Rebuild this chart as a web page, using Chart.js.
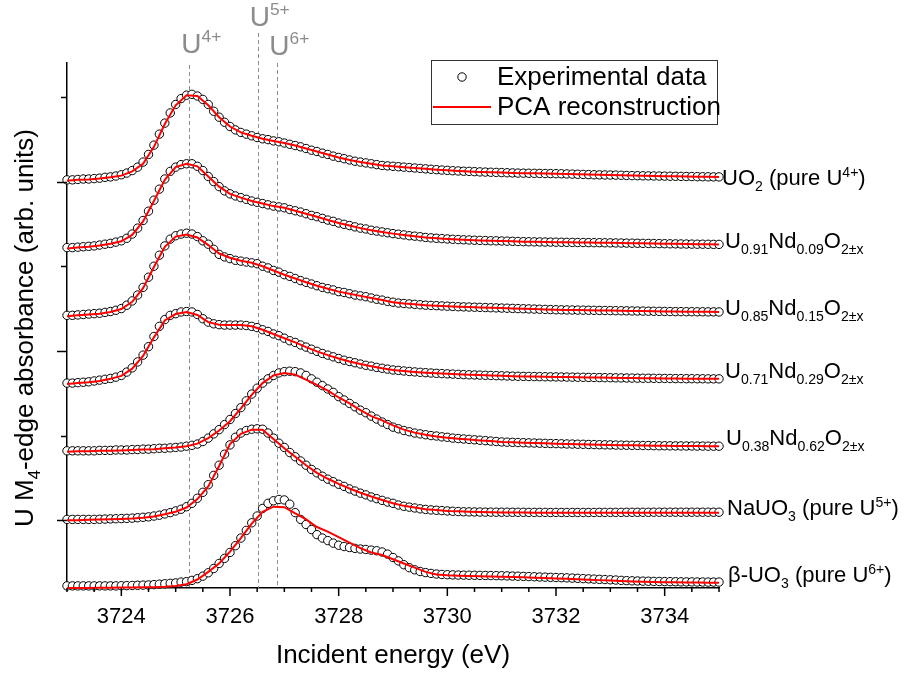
<!DOCTYPE html>
<html>
<head>
<meta charset="utf-8">
<title>U M4-edge HERFD spectra</title>
<script src="https://cdn.jsdelivr.net/npm/chart.js@4.4.1/dist/chart.umd.min.js"></script>
<style>
    html, body { margin: 0; padding: 0; background: #fff; }
    #chart { display: block; }
</style>
</head>
<body>
<canvas id="chart" width="906" height="674"></canvas>
<script>
// incident energies of the measured points (eV)
const energyExp = [
    3723.0, 3723.1, 3723.2, 3723.3, 3723.4, 3723.5, 3723.6, 3723.7, 3723.8, 3723.9,
    3724.0, 3724.1, 3724.2, 3724.3, 3724.4, 3724.5, 3724.6, 3724.7, 3724.8, 3724.9,
    3725.0, 3725.1, 3725.2, 3725.3, 3725.4, 3725.5, 3725.6, 3725.7, 3725.8, 3725.9,
    3726.0, 3726.1, 3726.2, 3726.3, 3726.4, 3726.5, 3726.6, 3726.7, 3726.8, 3726.9,
    3727.0, 3727.1, 3727.2, 3727.3, 3727.4, 3727.5, 3727.6, 3727.7, 3727.8, 3727.9,
    3728.0, 3728.1, 3728.2, 3728.3, 3728.4, 3728.5, 3728.6, 3728.7, 3728.8, 3728.9,
    3729.0, 3729.1, 3729.2, 3729.3, 3729.4, 3729.5, 3729.6, 3729.7, 3729.8, 3729.9,
    3730.0, 3730.1, 3730.2, 3730.3, 3730.4, 3730.5, 3730.6, 3730.7, 3730.8, 3730.9,
    3731.0, 3731.1, 3731.2, 3731.3, 3731.4, 3731.5, 3731.6, 3731.7, 3731.8, 3731.9,
    3732.0, 3732.1, 3732.2, 3732.3, 3732.4, 3732.5, 3732.6, 3732.7, 3732.8, 3732.9,
    3733.0, 3733.1, 3733.2, 3733.3, 3733.4, 3733.5, 3733.6, 3733.7, 3733.8, 3733.9,
    3734.0, 3734.1, 3734.2, 3734.3, 3734.4, 3734.5, 3734.6, 3734.7, 3734.8, 3734.9,
    3735.0
];

// incident energies of the PCA reconstruction (eV)
const energyFit = [
    3723.0, 3723.2, 3723.4, 3723.6, 3723.8, 3724.0, 3724.2, 3724.4, 3724.6, 3724.8,
    3725.0, 3725.2, 3725.4, 3725.6, 3725.8, 3726.0, 3726.2, 3726.4, 3726.6, 3726.8,
    3727.0, 3727.2, 3727.4, 3727.6, 3727.8, 3728.0, 3728.2, 3728.4, 3728.6, 3728.8,
    3729.0, 3729.2, 3729.4, 3729.6, 3729.8, 3730.0, 3730.2, 3730.4, 3730.6, 3730.8,
    3731.0, 3731.2, 3731.4, 3731.6, 3731.8, 3732.0, 3732.2, 3732.4, 3732.6, 3732.8,
    3733.0, 3733.2, 3733.4, 3733.6, 3733.8, 3734.0, 3734.2, 3734.4, 3734.6, 3734.8,
    3735.0
];

// vertical offsets used to stack the spectra (arb. units)
const seriesOffsets = [5.0, 4.2, 3.4, 2.6, 1.8, 1.0, 0.2];

// measured absorbance, one row per 1 eV
const expUO2 = [
    0.02, 0.02, 0.025, 0.03, 0.03, 0.035, 0.04, 0.05, 0.055, 0.065,
    0.08, 0.10, 0.13, 0.17, 0.23, 0.32, 0.43, 0.56, 0.69, 0.81,
    0.91, 0.98, 1.02, 1.03, 1.01, 0.97, 0.91, 0.83, 0.76, 0.70,
    0.65, 0.61, 0.58, 0.56, 0.54, 0.52, 0.505, 0.495, 0.48, 0.47,
    0.455, 0.44, 0.425, 0.41, 0.39, 0.37, 0.355, 0.335, 0.32, 0.30,
    0.285, 0.27, 0.255, 0.24, 0.23, 0.22, 0.21, 0.20, 0.19, 0.185,
    0.18, 0.175, 0.17, 0.165, 0.16, 0.155, 0.15, 0.145, 0.14, 0.136,
    0.132, 0.128, 0.125, 0.122, 0.12, 0.117, 0.114, 0.112, 0.11, 0.108,
    0.106, 0.104, 0.102, 0.10, 0.099, 0.098, 0.097, 0.096, 0.095, 0.094,
    0.093, 0.092, 0.09, 0.088, 0.086, 0.084, 0.082, 0.08, 0.079, 0.078,
    0.077, 0.076, 0.074, 0.072, 0.07, 0.069, 0.068, 0.067, 0.066, 0.065,
    0.064, 0.063, 0.062, 0.061, 0.06, 0.059, 0.058, 0.057, 0.056, 0.055,
    0.055
];
const expU091 = [
    0.02, 0.02, 0.025, 0.03, 0.035, 0.04, 0.05, 0.06, 0.07, 0.085,
    0.10, 0.13, 0.18, 0.25, 0.34, 0.45, 0.58, 0.71, 0.83, 0.92,
    0.97, 1.0, 1.01, 1.01, 0.98, 0.93, 0.86, 0.80, 0.74, 0.69,
    0.655, 0.63, 0.61, 0.59, 0.57, 0.555, 0.54, 0.525, 0.51, 0.50,
    0.49, 0.47, 0.455, 0.44, 0.42, 0.40, 0.385, 0.365, 0.345, 0.33,
    0.31, 0.295, 0.28, 0.265, 0.25, 0.24, 0.225, 0.215, 0.205, 0.195,
    0.185, 0.178, 0.17, 0.16, 0.155, 0.148, 0.14, 0.135, 0.13, 0.126,
    0.122, 0.118, 0.115, 0.112, 0.11, 0.107, 0.105, 0.103, 0.101, 0.10,
    0.098, 0.096, 0.094, 0.092, 0.09, 0.089, 0.088, 0.087, 0.086, 0.085,
    0.084, 0.083, 0.082, 0.081, 0.08, 0.08, 0.079, 0.078, 0.078, 0.077,
    0.076, 0.075, 0.074, 0.073, 0.072, 0.071, 0.07, 0.069, 0.068, 0.067,
    0.066, 0.065, 0.064, 0.063, 0.062, 0.061, 0.06, 0.06, 0.059, 0.058,
    0.058
];
const expU085 = [
    0.02, 0.02, 0.025, 0.03, 0.035, 0.04, 0.045, 0.055, 0.065, 0.08,
    0.10, 0.14, 0.19, 0.26, 0.35, 0.47, 0.60, 0.73, 0.84, 0.92,
    0.96, 0.98, 0.99, 0.98, 0.95, 0.90, 0.86, 0.80, 0.74, 0.71,
    0.69, 0.67, 0.66, 0.65, 0.64, 0.63, 0.60, 0.58, 0.55, 0.53,
    0.50, 0.48, 0.455, 0.43, 0.41, 0.39, 0.37, 0.35, 0.335, 0.32,
    0.30, 0.29, 0.275, 0.26, 0.25, 0.24, 0.225, 0.21, 0.20, 0.185,
    0.175, 0.165, 0.16, 0.155, 0.15, 0.145, 0.14, 0.137, 0.134, 0.131,
    0.128, 0.125, 0.122, 0.12, 0.118, 0.116, 0.114, 0.112, 0.11, 0.108,
    0.106, 0.104, 0.102, 0.10, 0.098, 0.096, 0.094, 0.092, 0.09, 0.088,
    0.086, 0.085, 0.084, 0.083, 0.082, 0.081, 0.08, 0.079, 0.078, 0.077,
    0.076, 0.075, 0.074, 0.073, 0.072, 0.071, 0.07, 0.069, 0.068, 0.067,
    0.066, 0.065, 0.064, 0.064, 0.063, 0.063, 0.062, 0.062, 0.061, 0.061,
    0.06
];
const expU071 = [
    0.02, 0.02, 0.025, 0.03, 0.035, 0.045, 0.055, 0.065, 0.075, 0.09,
    0.11, 0.15, 0.20, 0.27, 0.35, 0.45, 0.57, 0.69, 0.77, 0.82,
    0.84, 0.86, 0.865, 0.86, 0.83, 0.78, 0.74, 0.72, 0.71, 0.705,
    0.705, 0.705, 0.705, 0.70, 0.69, 0.675, 0.65, 0.63, 0.60, 0.58,
    0.55, 0.52, 0.50, 0.47, 0.445, 0.42, 0.395, 0.37, 0.35, 0.33,
    0.31, 0.29, 0.275, 0.26, 0.245, 0.23, 0.22, 0.205, 0.195, 0.185,
    0.175, 0.17, 0.163, 0.157, 0.152, 0.147, 0.143, 0.139, 0.135, 0.132,
    0.129, 0.126, 0.123, 0.12, 0.118, 0.116, 0.114, 0.112, 0.11, 0.108,
    0.106, 0.104, 0.102, 0.10, 0.099, 0.098, 0.097, 0.096, 0.095, 0.094,
    0.093, 0.092, 0.091, 0.09, 0.089, 0.088, 0.087, 0.086, 0.085, 0.084,
    0.083, 0.082, 0.081, 0.08, 0.079, 0.078, 0.077, 0.077, 0.076, 0.075,
    0.075, 0.074, 0.073, 0.073, 0.072, 0.072, 0.071, 0.071, 0.07, 0.07,
    0.07
];
const expU038 = [
    0.02, 0.02, 0.02, 0.02, 0.02, 0.02, 0.025, 0.025, 0.025, 0.03,
    0.03, 0.03, 0.035, 0.035, 0.04, 0.04, 0.045, 0.05, 0.05, 0.055,
    0.06, 0.065, 0.075, 0.085, 0.10, 0.13, 0.17, 0.22, 0.27, 0.33,
    0.39, 0.46, 0.53, 0.61, 0.69, 0.76, 0.82, 0.87, 0.91, 0.94,
    0.955, 0.96, 0.955, 0.94, 0.91, 0.87, 0.83, 0.79, 0.75, 0.71,
    0.66, 0.62, 0.58, 0.54, 0.50, 0.47, 0.43, 0.395, 0.36, 0.33,
    0.30, 0.28, 0.26, 0.245, 0.23, 0.22, 0.21, 0.20, 0.195, 0.185,
    0.18, 0.17, 0.165, 0.16, 0.155, 0.15, 0.145, 0.14, 0.135, 0.13,
    0.125, 0.122, 0.12, 0.118, 0.116, 0.114, 0.112, 0.11, 0.108, 0.106,
    0.105, 0.103, 0.101, 0.10, 0.098, 0.097, 0.095, 0.094, 0.092, 0.091,
    0.09, 0.088, 0.087, 0.086, 0.085, 0.084, 0.083, 0.082, 0.081, 0.08,
    0.08, 0.079, 0.078, 0.078, 0.077, 0.077, 0.076, 0.076, 0.075, 0.075,
    0.075
];
const expNaUO3 = [
    0.01, 0.01, 0.01, 0.01, 0.01, 0.01, 0.012, 0.014, 0.016, 0.018,
    0.02, 0.022, 0.025, 0.03, 0.035, 0.04, 0.05, 0.06, 0.075, 0.09,
    0.11, 0.13, 0.16, 0.20, 0.26, 0.33, 0.42, 0.53, 0.65, 0.78,
    0.89, 0.98, 1.03, 1.06, 1.075, 1.08, 1.075, 1.03, 0.97, 0.91,
    0.86, 0.80, 0.75, 0.70, 0.65, 0.60, 0.56, 0.52, 0.485, 0.455,
    0.425, 0.40, 0.37, 0.345, 0.32, 0.30, 0.275, 0.255, 0.235, 0.215,
    0.20, 0.18, 0.165, 0.155, 0.145, 0.135, 0.128, 0.122, 0.118, 0.114,
    0.11, 0.106, 0.103, 0.10, 0.099, 0.098, 0.097, 0.096, 0.096, 0.095,
    0.095, 0.095, 0.094, 0.094, 0.094, 0.093, 0.093, 0.093, 0.093, 0.092,
    0.092, 0.092, 0.092, 0.092, 0.092, 0.092, 0.092, 0.092, 0.093, 0.093,
    0.093, 0.093, 0.093, 0.094, 0.094, 0.094, 0.094, 0.094, 0.095, 0.095,
    0.095, 0.095, 0.095, 0.095, 0.095, 0.095, 0.095, 0.095, 0.095, 0.095,
    0.095
];
const expBUO3 = [
    0.025, 0.025, 0.025, 0.025, 0.025, 0.025, 0.025, 0.025, 0.025, 0.025,
    0.027, 0.028, 0.03, 0.032, 0.034, 0.036, 0.04, 0.045, 0.05, 0.055,
    0.06, 0.07, 0.075, 0.09, 0.11, 0.14, 0.18, 0.23, 0.29, 0.35,
    0.42, 0.50, 0.59, 0.68, 0.77, 0.85, 0.94, 1.00, 1.03, 1.045,
    1.04, 0.99, 0.89, 0.81, 0.75, 0.69, 0.63, 0.59, 0.56, 0.53,
    0.505, 0.49, 0.478, 0.468, 0.46, 0.455, 0.447, 0.44, 0.425, 0.40,
    0.36, 0.32, 0.275, 0.24, 0.215, 0.195, 0.182, 0.172, 0.165, 0.16,
    0.157, 0.155, 0.153, 0.152, 0.151, 0.15, 0.149, 0.148, 0.147, 0.146,
    0.145, 0.143, 0.141, 0.139, 0.137, 0.135, 0.133, 0.13, 0.128, 0.126,
    0.124, 0.122, 0.12, 0.117, 0.114, 0.111, 0.108, 0.105, 0.102, 0.10,
    0.097, 0.094, 0.09, 0.087, 0.085, 0.083, 0.081, 0.08, 0.078, 0.077,
    0.076, 0.075, 0.074, 0.073, 0.072, 0.072, 0.071, 0.071, 0.07, 0.07,
    0.07
];

// PCA reconstruction, one row per 1 eV
const fitUO2 = [
    0.01, 0.02, 0.025, 0.035, 0.05,
    0.07, 0.12, 0.21, 0.41, 0.68,
    0.90, 1.02, 1.01, 0.90, 0.76,
    0.65, 0.58, 0.54, 0.505, 0.48,
    0.455, 0.425, 0.39, 0.355, 0.32,
    0.285, 0.255, 0.23, 0.21, 0.19,
    0.18, 0.17, 0.16, 0.15, 0.14,
    0.132, 0.125, 0.12, 0.114, 0.11,
    0.106, 0.102, 0.099, 0.097, 0.095,
    0.093, 0.09, 0.086, 0.082, 0.079,
    0.077, 0.074, 0.07, 0.068, 0.066,
    0.064, 0.062, 0.06, 0.058, 0.056,
    0.055
];
const fitU091 = [
    0.01, 0.02, 0.03, 0.045, 0.065,
    0.095, 0.17, 0.33, 0.57, 0.82,
    0.97, 1.01, 0.98, 0.86, 0.74,
    0.655, 0.61, 0.57, 0.54, 0.51,
    0.49, 0.455, 0.42, 0.385, 0.345,
    0.31, 0.28, 0.25, 0.225, 0.205,
    0.185, 0.17, 0.155, 0.14, 0.13,
    0.122, 0.115, 0.11, 0.105, 0.101,
    0.098, 0.094, 0.09, 0.088, 0.086,
    0.084, 0.082, 0.08, 0.079, 0.078,
    0.076, 0.074, 0.072, 0.07, 0.068,
    0.066, 0.064, 0.062, 0.06, 0.059,
    0.058
];
const fitU085 = [
    0.01, 0.02, 0.03, 0.04, 0.06,
    0.095, 0.18, 0.34, 0.59, 0.83,
    0.95, 0.975, 0.94, 0.85, 0.75,
    0.70, 0.665, 0.64, 0.60, 0.55,
    0.50, 0.455, 0.41, 0.37, 0.335,
    0.30, 0.275, 0.25, 0.225, 0.20,
    0.175, 0.16, 0.15, 0.14, 0.134,
    0.128, 0.122, 0.118, 0.114, 0.11,
    0.106, 0.102, 0.098, 0.094, 0.09,
    0.086, 0.084, 0.082, 0.08, 0.078,
    0.076, 0.074, 0.072, 0.07, 0.068,
    0.066, 0.064, 0.063, 0.062, 0.061,
    0.06
];
const fitU071 = [
    0.01, 0.02, 0.03, 0.045, 0.07,
    0.105, 0.19, 0.34, 0.56, 0.76,
    0.835, 0.86, 0.825, 0.74, 0.71,
    0.705, 0.705, 0.69, 0.65, 0.60,
    0.55, 0.50, 0.445, 0.395, 0.35,
    0.31, 0.275, 0.245, 0.22, 0.195,
    0.175, 0.163, 0.152, 0.143, 0.135,
    0.129, 0.123, 0.118, 0.114, 0.11,
    0.106, 0.102, 0.099, 0.097, 0.095,
    0.093, 0.091, 0.089, 0.087, 0.085,
    0.083, 0.081, 0.079, 0.077, 0.076,
    0.075, 0.073, 0.072, 0.071, 0.07,
    0.07
];
const fitU038 = [
    0.01, 0.015, 0.015, 0.02, 0.02,
    0.025, 0.03, 0.035, 0.04, 0.05,
    0.06, 0.075, 0.105, 0.17, 0.26,
    0.37, 0.52, 0.68, 0.82, 0.91,
    0.94, 0.92, 0.86, 0.80, 0.73,
    0.65, 0.58, 0.50, 0.43, 0.38,
    0.32, 0.27, 0.235, 0.21, 0.19,
    0.175, 0.163, 0.153, 0.143, 0.135,
    0.125, 0.12, 0.116, 0.112, 0.108,
    0.104, 0.101, 0.098, 0.095, 0.092,
    0.089, 0.087, 0.085, 0.083, 0.081,
    0.079, 0.078, 0.077, 0.076, 0.075,
    0.075
];
const fitNaUO3 = [
    0.0, 0.0, 0.005, 0.008, 0.012,
    0.015, 0.02, 0.03, 0.045, 0.07,
    0.10, 0.15, 0.25, 0.40, 0.64,
    0.90, 1.02, 1.07, 1.07, 0.96,
    0.85, 0.75, 0.65, 0.56, 0.49,
    0.43, 0.375, 0.325, 0.28, 0.24,
    0.20, 0.17, 0.15, 0.13, 0.12,
    0.11, 0.105, 0.10, 0.097, 0.095,
    0.093, 0.092, 0.091, 0.09, 0.09,
    0.09, 0.09, 0.09, 0.09, 0.09,
    0.09, 0.09, 0.09, 0.09, 0.09,
    0.09, 0.09, 0.09, 0.09, 0.09,
    0.09
];
const fitBUO3 = [
    0.0, 0.0, 0.0, 0.003, 0.003,
    0.005, 0.005, 0.008, 0.01, 0.015,
    0.025, 0.045, 0.10, 0.19, 0.29,
    0.43, 0.59, 0.76, 0.90, 0.96,
    0.955, 0.88, 0.81, 0.72, 0.665,
    0.60, 0.535, 0.47, 0.42, 0.39,
    0.34, 0.29, 0.24, 0.19, 0.16,
    0.15, 0.145, 0.142, 0.14, 0.137,
    0.134, 0.13, 0.126, 0.122, 0.118,
    0.113, 0.108, 0.103, 0.098, 0.093,
    0.088, 0.083, 0.078, 0.074, 0.071,
    0.069, 0.067, 0.065, 0.064, 0.063,
    0.062
];

const expSeries = [expUO2, expU091, expU085, expU071, expU038, expNaUO3, expBUO3];
const fitSeries = [fitUO2, fitU091, fitU085, fitU071, fitU038, fitNaUO3, fitBUO3];

// sample names written next to each spectrum ('sub' / 'sup' mark sub- and superscripts)
const sampleLabels = [
    [['UO'], ['2', 'sub'], [' (pure U'], ['4+', 'sup'], [')']],
    [['U'], ['0.91', 'sub'], ['Nd'], ['0.09', 'sub'], ['O'], ['2±x', 'sub']],
    [['U'], ['0.85', 'sub'], ['Nd'], ['0.15', 'sub'], ['O'], ['2±x', 'sub']],
    [['U'], ['0.71', 'sub'], ['Nd'], ['0.29', 'sub'], ['O'], ['2±x', 'sub']],
    [['U'], ['0.38', 'sub'], ['Nd'], ['0.62', 'sub'], ['O'], ['2±x', 'sub']],
    [['NaUO'], ['3', 'sub'], [' (pure U'], ['5+', 'sup'], [')']],
    [['β-UO'], ['3', 'sub'], [' (pure U'], ['6+', 'sup'], [')']]
];

// white-line energies of the reference oxidation states
const markerEnergies = [3725.25, 3726.51, 3726.87];
const markerLabels = ['4+', '5+', '6+'];

const xTitle = 'Incident energy (eV)';
const yTitle = [['U M'], ['4', 'sub'], ['-edge absorbance (arb. units)']];
const legendLabels = ['Experimental data', 'PCA reconstruction'];

const FONT = 'Arial, "Liberation Sans", sans-serif';

let spectraChart = {
    /**
     * The Chart.js instance
     * @type {Chart}
     */
    chart: null
};

/**
 * draws a text made of normal, subscript and superscript parts, returns its width
 */
spectraChart.drawRich = function (ctx, parts, x, y, size, scriptScale = 0.64, dryRun = false) {
    let cx = x;
    for (const part of parts) {
        const kind = part[1] || '';
        const s = kind ? size * scriptScale : size;
        const dy = kind === 'sub' ? size * 0.27 : (kind === 'sup' ? -size * 0.38 : 0);
        ctx.font = s + 'px ' + FONT;
        if (!dryRun) {
            ctx.fillText(part[0], cx, y + dy);
        }
        cx += ctx.measureText(part[0]).width;
    }
    return cx - x;
};

/**
 * dashed marker lines, tick marks, labels, titles and the framed legend
 */
const decorations = {
    id: 'decorations',
    beforeDatasetsDraw(chart) {
        const ctx = chart.ctx;
        const xs = chart.scales.x;
        const area = chart.chartArea;
        const tops = [area.top + 2, 33, area.top];
        ctx.save();
        ctx.strokeStyle = '#8c8c8c';
        ctx.lineWidth = 1;
        ctx.setLineDash([4, 3]);
        for (let i = 0; i < markerEnergies.length; i++) {
            const px = Math.round(xs.getPixelForValue(markerEnergies[i])) + 0.5;
            ctx.beginPath();
            ctx.moveTo(px, tops[i]);
            ctx.lineTo(px, area.bottom);
            ctx.stroke();
        }
        ctx.restore();
    },
    afterDraw(chart) {
        const ctx = chart.ctx;
        const xs = chart.scales.x;
        const ys = chart.scales.y;
        const area = chart.chartArea;
        ctx.save();

        // tick marks: long at labelled values, short in between
        ctx.strokeStyle = '#000';
        ctx.lineWidth = 1.5;
        for (const t of xs.ticks) {
            const px = xs.getPixelForValue(t.value);
            const len = Math.abs(t.value % 2) < 1e-6 ? 8 : 4;
            ctx.beginPath();
            ctx.moveTo(px, area.bottom);
            ctx.lineTo(px, area.bottom + len);
            ctx.stroke();
        }
        for (const t of ys.ticks) {
            if (Math.abs(t.value - Math.round(t.value)) > 1e-6) {
                continue;
            }
            const py = Math.round(ys.getPixelForValue(t.value)) + 0.5;
            const len = Math.round(t.value) % 2 === 1 ? 10 : 6;
            ctx.beginPath();
            ctx.moveTo(area.left - len, py);
            ctx.lineTo(area.left, py);
            ctx.stroke();
        }

        // oxidation state labels above the dashed lines
        ctx.fillStyle = '#8c8c8c';
        ctx.textBaseline = 'alphabetic';
        ctx.textAlign = 'left';
        const baselines = [53, 26, 55];
        for (let i = 0; i < markerEnergies.length; i++) {
            const px = xs.getPixelForValue(markerEnergies[i]);
            spectraChart.drawRich(ctx, [['U'], [markerLabels[i], 'sup']], px - 8, baselines[i], 28, 0.62);
        }

        // sample names at the right end of each spectrum
        ctx.fillStyle = '#000';
        const labelBaselines = [185, 248, 315, 378, 445, 515, 582];
        const labelX = [722, 725, 725, 725, 726, 727, 728];
        for (let i = 0; i < sampleLabels.length; i++) {
            spectraChart.drawRich(ctx, sampleLabels[i], labelX[i], labelBaselines[i], 22, 0.64);
        }

        // y axis title, rotated
        ctx.save();
        ctx.translate(24, 328);
        ctx.rotate(-Math.PI / 2);
        const w = spectraChart.drawRich(ctx, yTitle, 0, 0, 26, 0.64, true);
        spectraChart.drawRich(ctx, yTitle, -w / 2, 9, 26, 0.64);
        ctx.restore();

        // legend box
        ctx.fillStyle = '#fff';
        ctx.fillRect(431, 60, 286, 64);
        ctx.strokeStyle = '#333';
        ctx.lineWidth = 1;
        ctx.strokeRect(431.5, 60.5, 286, 64);
        ctx.beginPath();
        ctx.arc(462, 77, 4.2, 0, Math.PI * 2);
        ctx.fillStyle = '#fff';
        ctx.fill();
        ctx.strokeStyle = '#000';
        ctx.stroke();
        ctx.beginPath();
        ctx.moveTo(433, 107);
        ctx.lineTo(491, 107);
        ctx.strokeStyle = '#ff0000';
        ctx.lineWidth = 2;
        ctx.stroke();
        ctx.fillStyle = '#000';
        ctx.font = '26px ' + FONT;
        ctx.textBaseline = 'middle';
        ctx.fillText(legendLabels[0], 497, 78);
        ctx.fillText(legendLabels[1], 497, 108);

        ctx.restore();
    }
};

/**
 * builds the datasets and creates the chart
 */
spectraChart.init = function () {
    let datasets = [];
    for (let i = 0; i < expSeries.length; i++) {
        datasets.push({
            label: 'exp' + i,
            data: energyExp.map((e, k) => ({x: e, y: expSeries[i][k] + seriesOffsets[i]})),
            showLine: false,
            pointRadius: 4.2,
            pointBorderWidth: 1,
            pointBorderColor: '#000',
            pointBackgroundColor: '#fff',
            clip: false,
            order: 1
        });
    }
    for (let i = 0; i < fitSeries.length; i++) {
        datasets.push({
            label: 'fit' + i,
            data: energyFit.map((e, k) => ({x: e, y: fitSeries[i][k] + seriesOffsets[i]})),
            showLine: true,
            borderColor: '#ff0000',
            borderWidth: 2,
            pointRadius: 0,
            tension: 0,
            clip: false,
            order: 0
        });
    }

    Chart.defaults.font.family = FONT;
    Chart.defaults.color = '#000';

    spectraChart.chart = new Chart(document.getElementById('chart'), {
        type: 'scatter',
        data: {datasets: datasets},
        options: {
            responsive: false,
            animation: false,
            devicePixelRatio: 1,
            events: [],
            layout: {padding: {left: 67, right: 187, top: 63, bottom: 0}},
            plugins: {
                legend: {display: false},
                tooltip: {enabled: false}
            },
            scales: {
                x: {
                    type: 'linear',
                    min: 3723,
                    max: 3735,
                    grid: {display: false, drawTicks: false},
                    border: {display: true, color: '#000', width: 1.5},
                    ticks: {
                        stepSize: 0.5,
                        autoSkip: false,
                        maxRotation: 0,
                        padding: 16,
                        color: '#000',
                        font: {size: 22},
                        callback: function (value) {
                            return Math.abs(value % 2) < 1e-6 ? String(value) : '';
                        }
                    },
                    title: {
                        display: true,
                        text: xTitle,
                        color: '#000',
                        font: {size: 26},
                        padding: {top: 0, bottom: 3}
                    },
                    afterFit: function (scale) {
                        scale.height = 86;
                    }
                },
                y: {
                    type: 'linear',
                    min: 0.2,
                    max: 6.4,
                    grid: {display: false, drawTicks: false},
                    border: {display: true, color: '#000', width: 1.5},
                    ticks: {display: false, stepSize: 1},
                    afterFit: function (scale) {
                        scale.width = 0;
                    }
                }
            }
        },
        plugins: [decorations]
    });
};

spectraChart.init();
</script>
</body>
</html>
